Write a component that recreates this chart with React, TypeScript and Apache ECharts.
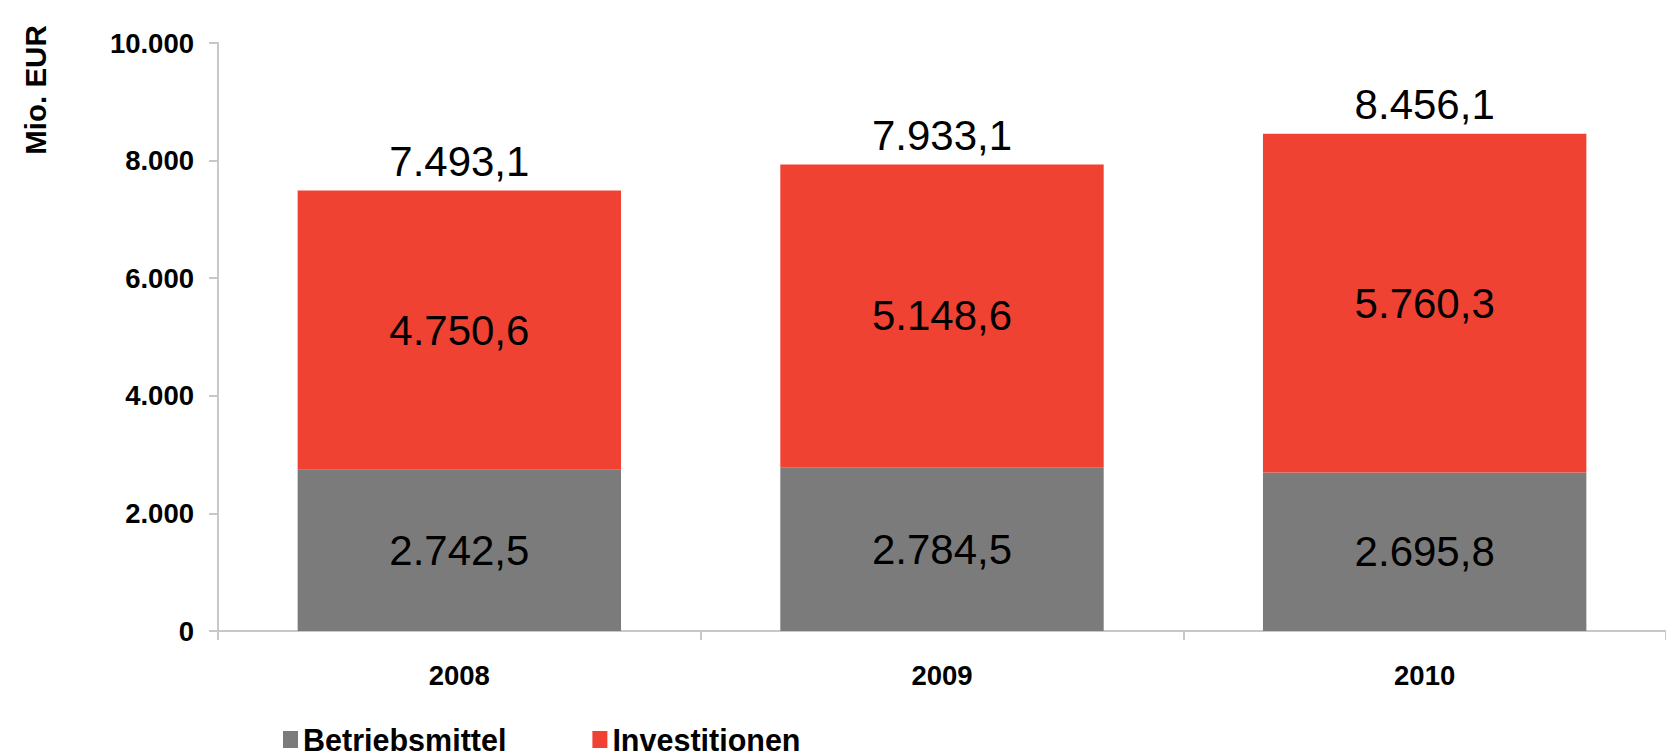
import React, { useEffect, useRef } from "react";
import * as echarts from "echarts";

const categories = ["2008", "2009", "2010"];
const betriebsmittel = [2742.5, 2784.5, 2695.8];
const investitionen = [4750.6, 5148.6, 5760.3];
const totals = [7493.1, 7933.1, 8456.1];
const seriesNames = ["Betriebsmittel", "Investitionen"];
const yTicks = { min: 0, max: 10000, interval: 2000 };
const axisName = "Mio. EUR";

const FONT = "'Liberation Sans', Arial, Helvetica, sans-serif";
const GRAY = "#7b7b7b";
const RED = "#ef4233";
const AXIS = "#c8c8c8";

function fmtDe(v: number, decimals: number): string {
  const fixed = v.toFixed(decimals);
  const [intPart, dec] = fixed.split(".");
  const withDots = intPart.replace(/\B(?=(\d{3})+(?!\d))/g, ".");
  return dec !== undefined ? withDots + "," + dec : withDots;
}

export default function App() {
  const ref = useRef<HTMLDivElement>(null);
  useEffect(() => {
    if (!ref.current) return;
    const chart = echarts.init(ref.current, undefined, { renderer: "svg" });
    chart.setOption({
      animation: false,
      backgroundColor: "#ffffff",
      grid: { left: 218, right: 0, top: 43, bottom: 125, containLabel: false },
      legend: {
        data: seriesNames,
        left: 278,
        top: 719,
        icon: "rect",
        itemWidth: 15,
        itemHeight: 17,
        itemGap: 86,
        textStyle: { fontFamily: FONT, fontSize: 30.5, fontWeight: "bold", color: "#000" },
      },
      graphic: [
        {
          type: "text",
          x: 35,
          y: 90,
          rotation: Math.PI / 2,
          style: {
            text: axisName,
            fontFamily: FONT,
            fontSize: 29.5,
            fontWeight: "bold",
            fill: "#000",
            align: "center",
            verticalAlign: "middle",
          },
        },
      ],
      xAxis: {
        type: "category",
        data: categories,
        axisLine: { show: true, lineStyle: { color: AXIS, width: 2 } },
        axisTick: { show: true, alignWithLabel: false, length: 9, lineStyle: { color: AXIS, width: 2 } },
        axisLabel: {
          margin: 30,
          fontFamily: FONT,
          fontSize: 27.5,
          fontWeight: "bold",
          color: "#000",
        },
        splitLine: { show: false },
      },
      yAxis: {
        type: "value",
        min: yTicks.min,
        max: yTicks.max,
        interval: yTicks.interval,
        axisLine: { show: true, lineStyle: { color: AXIS, width: 2 } },
        axisTick: { show: true, length: 9, lineStyle: { color: AXIS, width: 2 } },
        axisLabel: {
          margin: 24,
          fontFamily: FONT,
          fontSize: 27.5,
          fontWeight: "bold",
          color: "#000",
          formatter: (v: number) => fmtDe(v, 0),
        },
        splitLine: { show: false },
      },
      series: [
        {
          name: seriesNames[0],
          type: "bar",
          stack: "total",
          barWidth: "67%",
          data: betriebsmittel,
          itemStyle: { color: GRAY },
          label: {
            show: true,
            position: "inside",
            fontFamily: FONT,
            fontSize: 42,
            color: "#000",
            formatter: (p: any) => fmtDe(p.value, 1),
          },
        },
        {
          name: seriesNames[1],
          type: "bar",
          stack: "total",
          barWidth: "67%",
          data: investitionen,
          itemStyle: { color: RED },
          label: {
            show: true,
            position: "inside",
            fontFamily: FONT,
            fontSize: 42,
            color: "#000",
            formatter: (p: any) => fmtDe(p.value, 1),
          },
        },
        {
          name: "total",
          type: "bar",
          stack: "total",
          barWidth: "67%",
          data: totals.map(() => 0),
          itemStyle: { color: "transparent" },
          tooltip: { show: false },
          label: {
            show: true,
            position: "top",
            distance: 8,
            fontFamily: FONT,
            fontSize: 42,
            color: "#000",
            formatter: (p: any) => fmtDe(totals[p.dataIndex], 1),
          },
        },
      ],
    });
    return () => chart.dispose();
  }, []);
  return (
    <div
      ref={ref}
      style={{ position: "fixed", left: 0, top: 0, width: 1666, height: 756 }}
    />
  );
}
